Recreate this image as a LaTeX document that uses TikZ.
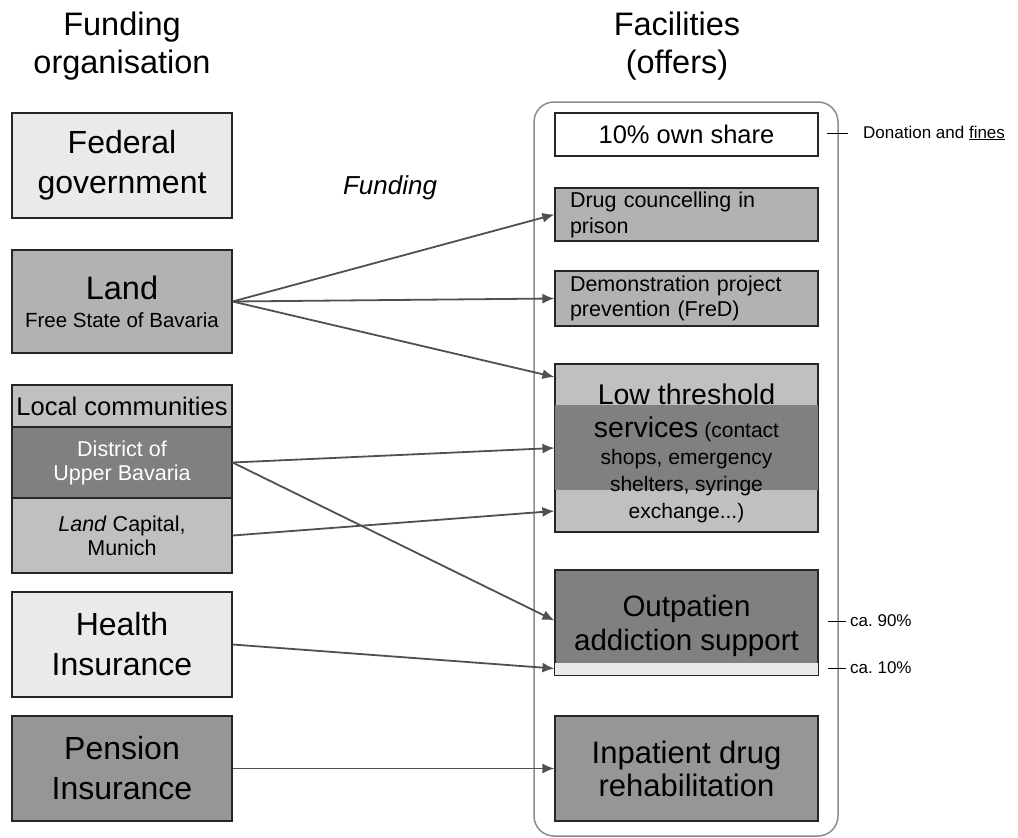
\documentclass[tikz,border=0pt]{standalone}
\usepackage{fontspec}
\setmainfont{Liberation Sans}
\usepackage{xcolor}
\usetikzlibrary{arrows.meta}
\definecolor{lightgray}{HTML}{EAEAEA}
\definecolor{landgray}{HTML}{B2B2B2}
\definecolor{silvergray}{HTML}{C0C0C0}
\definecolor{darkgray}{HTML}{808080}
\definecolor{midgray}{HTML}{969696}
\definecolor{arrowgray}{HTML}{505050}
\newcommand{\fsz}[2]{\fontsize{#1}{#2}\selectfont}
\frenchspacing
\tikzset{
  box/.style={draw=black!85, line width=1.2pt, minimum width=220pt, inner sep=0pt, align=center},
  offer/.style={box, minimum width=263pt},
  leftoffer/.style={offer, align=left, text width=233pt},
  fund/.style={arrowgray, line width=1.8pt, -{Latex[length=12pt,width=10pt]}},
  note/.style={anchor=west, inner sep=0pt, font=\fsz{17}{20}},
}
\begin{document}
\begin{tikzpicture}[x=1pt,y=-1pt]
\useasboundingbox (0,0) rectangle (1018,838);
% titles
\node[font=\fsz{32.5}{38}, align=center] (ltitle) at (122,46) {Funding\\organisation};
\node[font=\fsz{32.5}{38}, align=center] (rtitle) at (677,46) {Facilities\\(offers)};
\node[font=\fsz{26}{30}\itshape] (funding) at (390,188) {Funding};
% frame of the offers
\draw[draw=black!45, line width=1.5pt, rounded corners=20pt] (534,102) rectangle (838,836);
% funding organisations
\node[box, fill=lightgray, minimum height=105pt, font=\fsz{32}{40}] (fed) at (122,165.5) {Federal\\government};
\node[box, fill=landgray, minimum height=103pt, font=\fsz{20.5}{28}] (land) at (122,301.5) {{\fsz{32.5}{28}Land}\\Free State of Bavaria};
\node[box, fill=silvergray, minimum height=42pt, font=\fsz{25.5}{30}] (loc) at (122,406) {Local communities};
\node[box, fill=darkgray, minimum height=71pt, font=\fsz{21.5}{24}, text=white] (dist) at (122,462.5) {District of\\Upper Bavaria};
\node[box, fill=silvergray, minimum height=75pt, font=\fsz{21.5}{24}] (cap) at (122,535.5) {\textit{Land} Capital,\\Munich};
\node[box, fill=lightgray, minimum height=105pt, font=\fsz{32}{40}] (health) at (122,644.5) {Health\\Insurance};
\node[box, fill=midgray, minimum height=105pt, font=\fsz{32}{40}] (pens) at (122,768.5) {Pension\\Insurance};
% offers
\node[offer, fill=white, minimum height=43pt, font=\fsz{25.5}{28}] (own) at (686.5,134.5) {10\% own share};
\node[leftoffer, fill=landgray, minimum height=53pt, font=\fsz{21.5}{26}] (pris) at (686.5,214.5) {Drug councelling in\\prison};
\node[leftoffer, fill=landgray, minimum height=55pt, font=\fsz{21.5}{25}] (demo) at (686.5,298.5) {Demonstration project\\prevention (FreD)};
\node[offer, fill=silvergray, minimum height=168pt] (low) at (686.5,448) {};
\fill[darkgray] (555,405) rectangle (818,490);
\draw[draw=black!85, line width=1.2pt] (low.north west) rectangle (low.south east);
\node[align=center, font=\fsz{21}{27}] (lowtext) at ([yshift=-5pt]low.center)
  {{\fsz{28.5}{27}Low threshold}\\[6pt]{\fsz{28.5}{27}services} (contact\\shops, emergency\\shelters, syringe\\exchange...)};
\node[offer, fill=darkgray, minimum height=105pt] (out) at (686.5,622.5) {};
\fill[lightgray] (555,663) rectangle (818,675);
\draw[draw=black!85, line width=1.2pt] (out.north west) rectangle (out.south east);
\node[align=center, font=\fsz{29.5}{34}] (outtext) at ([yshift=-3pt]out.center) {Outpatien\\addiction support};
\node[offer, fill=midgray, minimum height=105pt, font=\fsz{31}{33}] (inp) at (686.5,768.5) {Inpatient drug\\rehabilitation};
% side notes
\node[note] (don) at (863,133) {Donation and \underline{fines}};
\node[note] (c90) at (850,621) {ca. 90\%};
\node[note] (c10) at (850,668) {ca. 10\%};
\draw[line width=1pt] ([xshift=-36pt]don.west) -- ([xshift=-15pt]don.west);
\draw[line width=1pt] ([xshift=-22pt]c90.west) -- ([xshift=-4pt]c90.west);
\draw[line width=1pt] ([xshift=-22pt]c10.west) -- ([xshift=-4pt]c10.west);
% funding flows
\draw[fund] (land.east) -- (pris.west);
\draw[fund] (land.east) -- (demo.west);
\draw[fund] (land.east) -- ([yshift=71pt]low.west);
\draw[fund] (dist.east) -- (low.west);
\draw[fund] (dist.east) -- ([yshift=2pt]out.west);
\draw[fund] (cap.east) -- ([yshift=-63pt]low.west);
\draw[fund] (health.east) -- ([yshift=-46pt]out.west);
\draw[fund] (pens.east) -- (inp.west);
\end{tikzpicture}
\end{document}
